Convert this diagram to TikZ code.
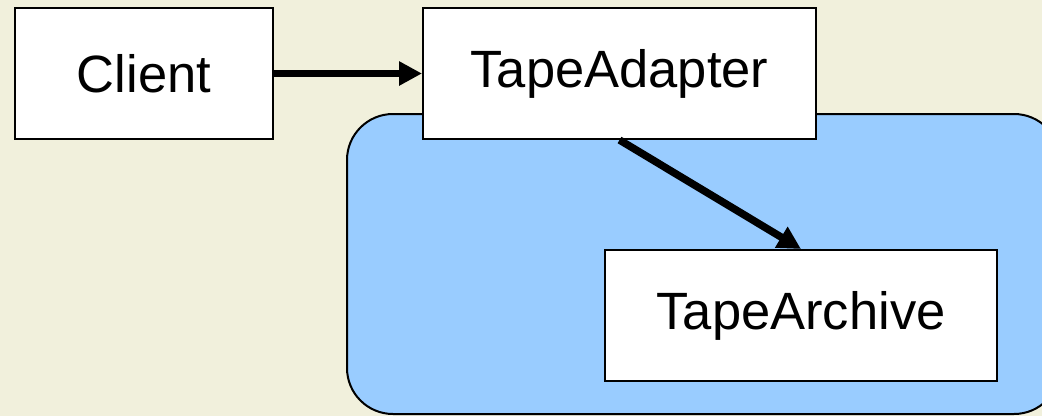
\documentclass[tikz,border=0pt]{standalone}
\usepackage{fontspec}
\setmainfont{Liberation Sans}
\usetikzlibrary{arrows.meta}
\definecolor{paper}{RGB}{241,240,220}
\definecolor{pkgblue}{RGB}{153,204,255}
\tikzset{
  classbox/.style={draw=black, fill=white, line width=2pt, inner sep=0pt,
    font=\fontsize{52.5}{60}\selectfont},
  link/.style={line width=7.5pt, -{Triangle[length=23pt,width=23pt]}},
}
\begin{document}
\begin{tikzpicture}[x=1pt, y=-1pt]
  % page area and background
  \fill[paper] (0,0) rectangle (1042,416);
  \useasboundingbox (0,0) rectangle (1042,416);
  \clip (0,0) rectangle (1042,416);
  % package region holding the adaptee
  \draw[fill=pkgblue, line width=2pt, rounded corners=46pt] (347,114) rectangle (1060,414);
  % classes
  \node[classbox, minimum width=258pt, minimum height=131pt] (cl) at (144,73.5) {Client};
  \node[classbox, minimum width=393pt, minimum height=131pt] (ad) at (619.5,73.5) {TapeAdapter};
  \node[classbox, minimum width=392pt, minimum height=131pt] (ar) at (801,315.5) {TapeArchive};
  % associations
  \draw[link] (cl.east) -- (ad.west);
  \draw[link] (ad.south) -- (ar.north);
\end{tikzpicture}
\end{document}
